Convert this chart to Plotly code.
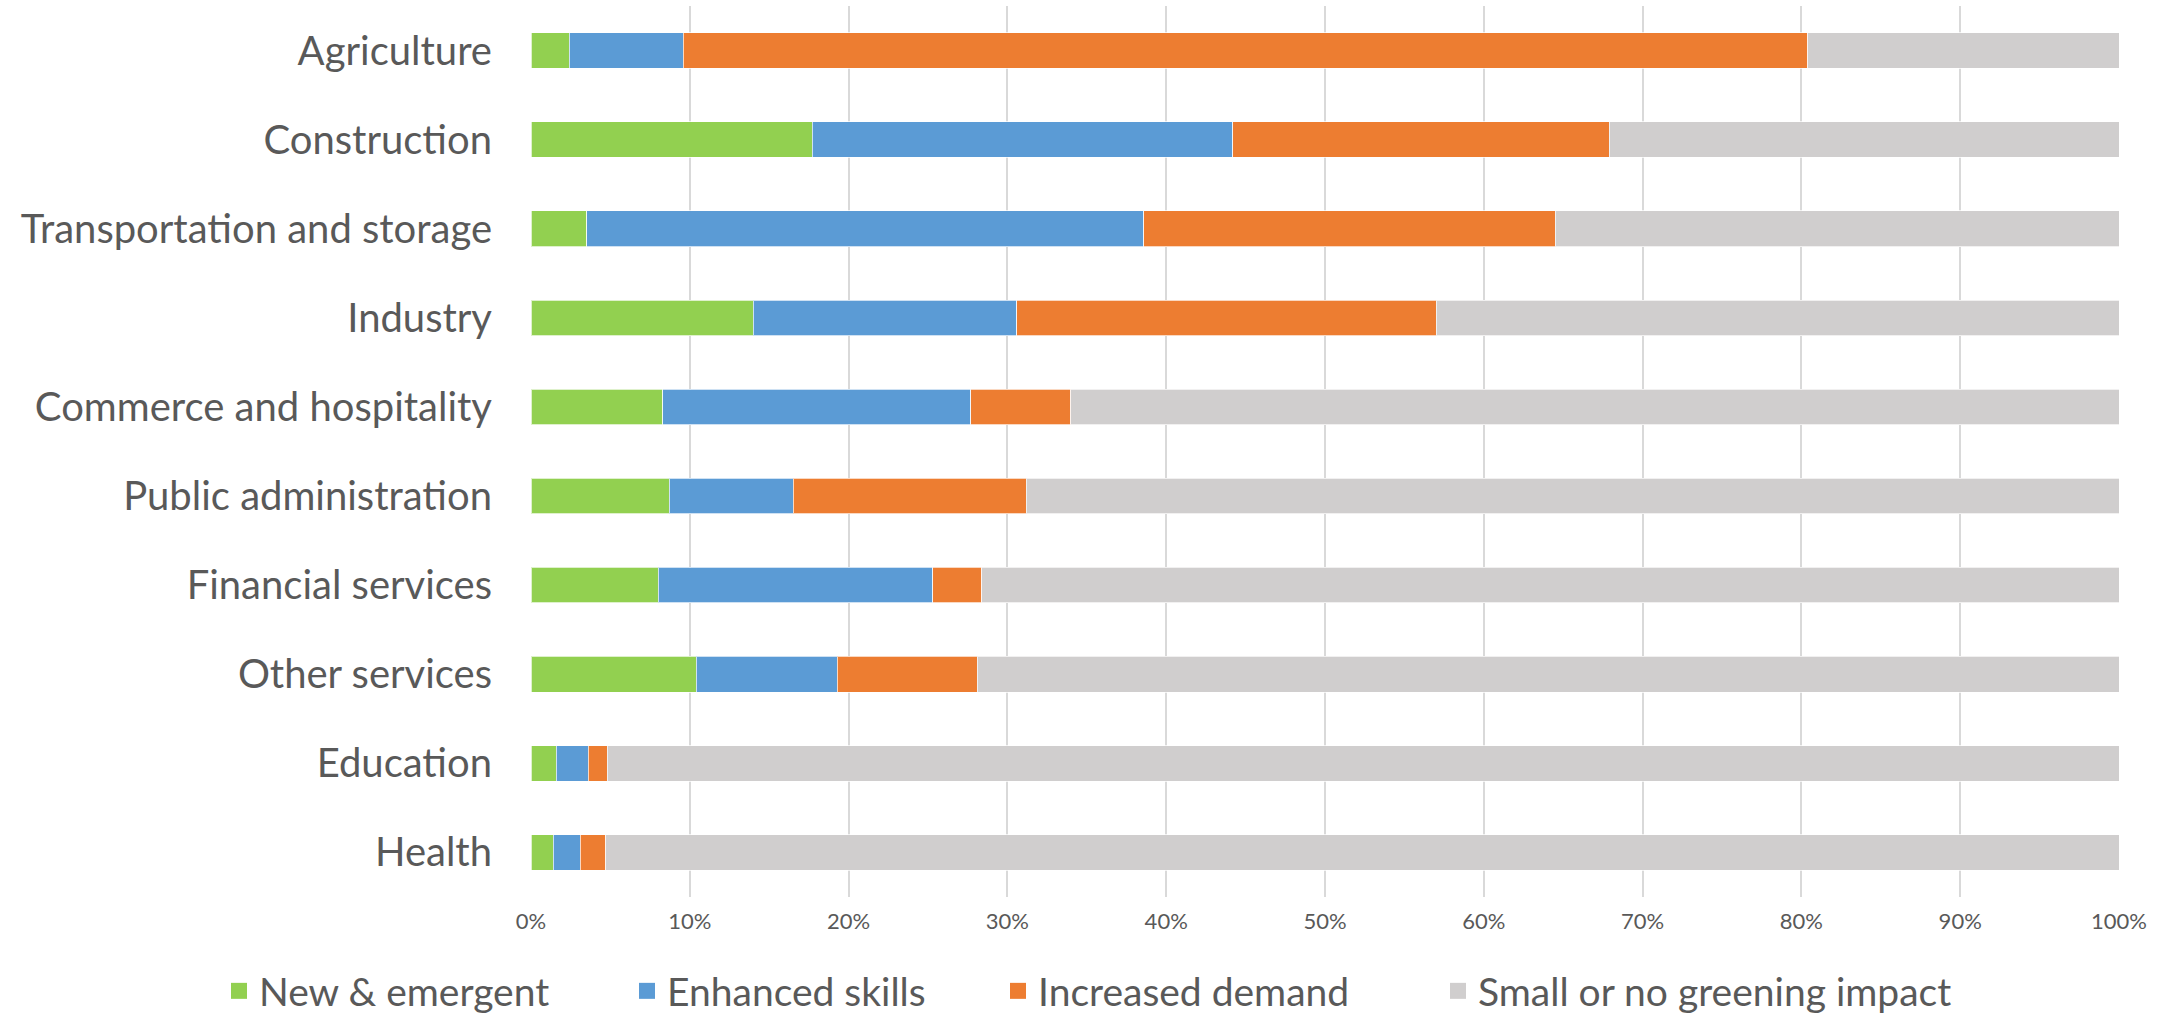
import plotly.graph_objects as go

# sectors, top to bottom
sectors = [
    "Agriculture", "Construction", "Transportation and storage", "Industry",
    "Commerce and hospitality", "Public administration", "Financial services",
    "Other services", "Education", "Health",
]

# shares of jobs (%) per greening impact
new_emergent = [2.4, 17.7, 3.5, 14.0, 8.3, 8.7, 8.0, 10.4, 1.6, 1.4]
enhanced_skills = [7.2, 26.5, 35.1, 16.6, 19.4, 7.8, 17.3, 8.9, 2.0, 1.7]
increased_demand = [70.8, 23.7, 25.9, 26.4, 6.3, 14.7, 3.1, 8.8, 1.2, 1.6]
small_or_none = [19.6, 32.1, 35.5, 43.0, 66.0, 68.8, 71.6, 71.9, 95.2, 95.3]

series_names = ["New & emergent", "Enhanced skills", "Increased demand", "Small or no greening impact"]
series_values = [new_emergent, enhanced_skills, increased_demand, small_or_none]
colors = ["#92D050", "#5B9BD5", "#ED7D31", "#D0CECE"]

FONT = "Lato"
TEXT = "#595959"

fig = go.Figure()

for name, vals, col in zip(series_names, series_values, colors):
    fig.add_trace(go.Bar(
        y=sectors, x=[v / 100 for v in vals], name=name, orientation="h",
        marker=dict(color=col, line=dict(color="rgba(255,255,255,0.7)", width=1)),
        showlegend=False,
    ))

# one small legend per series so the entries can sit where the original has them
legend_x = [219, 627, 998, 1438]
for i, (name, col) in enumerate(zip(series_names, colors)):
    key = "legend" if i == 0 else f"legend{i + 1}"
    fig.add_trace(go.Scatter(
        x=[None], y=[None], mode="markers", name=name,
        marker=dict(symbol="square", size=16, color=col),
        legend=key, showlegend=True,
    ))
    fig.update_layout({key: dict(
        x=legend_x[i] / 2171, xref="container", xanchor="left",
        y=1 - 991 / 1016, yref="container", yanchor="middle",
        orientation="h", itemsizing="trace", bgcolor="rgba(0,0,0,0)",
        font=dict(family=FONT, size=39, color=TEXT),
    )})

fig.update_layout(
    width=2171, height=1016,
    barmode="stack", bargap=0.6,
    plot_bgcolor="white", paper_bgcolor="white",
    margin=dict(l=531, r=52, t=6, b=119),
    font=dict(family=FONT, color=TEXT),
    xaxis=dict(
        range=[0, 1], dtick=0.1, tickformat=".0%",
        showgrid=True, gridcolor="#D9D9D9", gridwidth=1.5,
        zeroline=False, showline=False,
        tickfont=dict(family=FONT, size=22, color=TEXT),
        ticklabelstandoff=9,
    ),
    yaxis=dict(
        categoryorder="array", categoryarray=sectors, autorange="reversed",
        showgrid=False, zeroline=False, showline=False,
        tickfont=dict(family=FONT, size=40, color=TEXT),
        ticklabelstandoff=38,
    ),
)

fig.write_html(
    "out.html",
    config={"displayModeBar": False},
    post_script="document.body.style.margin='0';",
)
